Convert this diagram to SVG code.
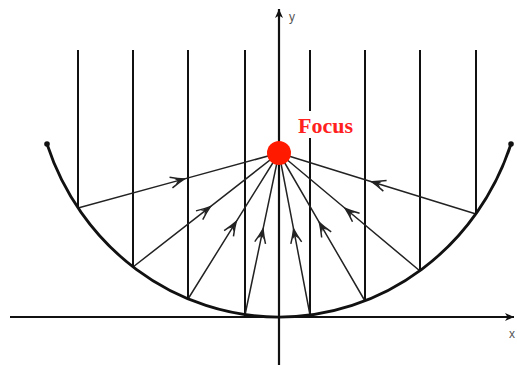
<svg xmlns="http://www.w3.org/2000/svg" width="517" height="365" viewBox="0 0 517 365">
<style>
.axis{stroke:#111;stroke-width:2.2;fill:none}
.vline{stroke:#111;stroke-width:2;fill:none}
.ray{stroke:#222;stroke-width:1.5;fill:none;marker-mid:url(#arr)}
.curve{stroke:#111;stroke-width:2.8;fill:none}
.lbl{font-family:"Liberation Sans",Arial,sans-serif;font-size:12px;fill:#555}
.focus{font-family:"Liberation Serif","Times New Roman",serif;font-weight:bold;font-size:22px;fill:#ff2020}
</style>
<defs>
<marker id="arr" viewBox="-16 -8 18 16" refX="0" refY="0" markerWidth="18" markerHeight="16" markerUnits="userSpaceOnUse" orient="auto">
<path d="M-14,-5.5 Q-6,-1.8 0,0 Q-6,1.8 -14,5.5" fill="none" stroke="#222" stroke-width="1.5"/>
<path d="M0,0 L-10,-3 L-7,0 L-10,3 Z" fill="#222"/>
</marker>
<marker id="axarr" viewBox="-9 -5 10 10" refX="0" refY="0" markerWidth="10" markerHeight="10" markerUnits="userSpaceOnUse" orient="auto">
<path d="M0,0 L-9,-4 L-6.5,0 L-9,4 Z" fill="#111"/>
</marker>
</defs>
<g id="axes">
<line class="axis" x1="10" y1="317" x2="514" y2="317" marker-end="url(#axarr)"/>
<line class="axis" x1="279" y1="365" x2="279" y2="9" marker-end="url(#axarr)"/>
<text class="lbl" x="289" y="21">y</text>
<text class="lbl" x="509" y="338">x</text>
</g>
<g id="connectors">
<line class="vline" x1="78" y1="50" x2="78" y2="208"/>
<line class="vline" x1="133" y1="50" x2="133" y2="267"/>
<line class="vline" x1="188" y1="50" x2="188" y2="299"/>
<line class="vline" x1="245" y1="50" x2="245" y2="315"/>
<line class="vline" x1="310" y1="50" x2="310" y2="315"/>
<line class="vline" x1="365" y1="50" x2="365" y2="301"/>
<line class="vline" x1="420" y1="50" x2="420" y2="271"/>
<line class="vline" x1="476" y1="50" x2="476" y2="214"/>
<path class="ray" d="M78,208 L184.5,178.9 L279,153"/>
<path class="ray" d="M133,267 L210.4,206.6 L279,153"/>
<path class="ray" d="M188,299 L236.2,221.6 L279,153"/>
<path class="ray" d="M245,315 L263,229.1 L279,153"/>
<path class="ray" d="M310,315 L293.6,229.1 L279,153"/>
<path class="ray" d="M365,301 L319.4,222.6 L279,153"/>
<path class="ray" d="M420,271 L345.3,208.5 L279,153"/>
<path class="ray" d="M476,214 L371.6,181.7 L279,153"/>
</g>
<g id="mirror">
<path class="curve" d="M47,144 A245,255 0 0,0 511,144"/>
<circle cx="47" cy="144" r="2.8" fill="#111"/>
<circle cx="511" cy="144" r="2.8" fill="#111"/>
</g>
<g id="focus">
<rect x="297" y="111" width="61" height="27" fill="#fff"/>
<circle cx="279" cy="153" r="12" fill="#ff1a00"/>
<text class="focus" x="298" y="133">Focus</text>
</g>
</svg>
